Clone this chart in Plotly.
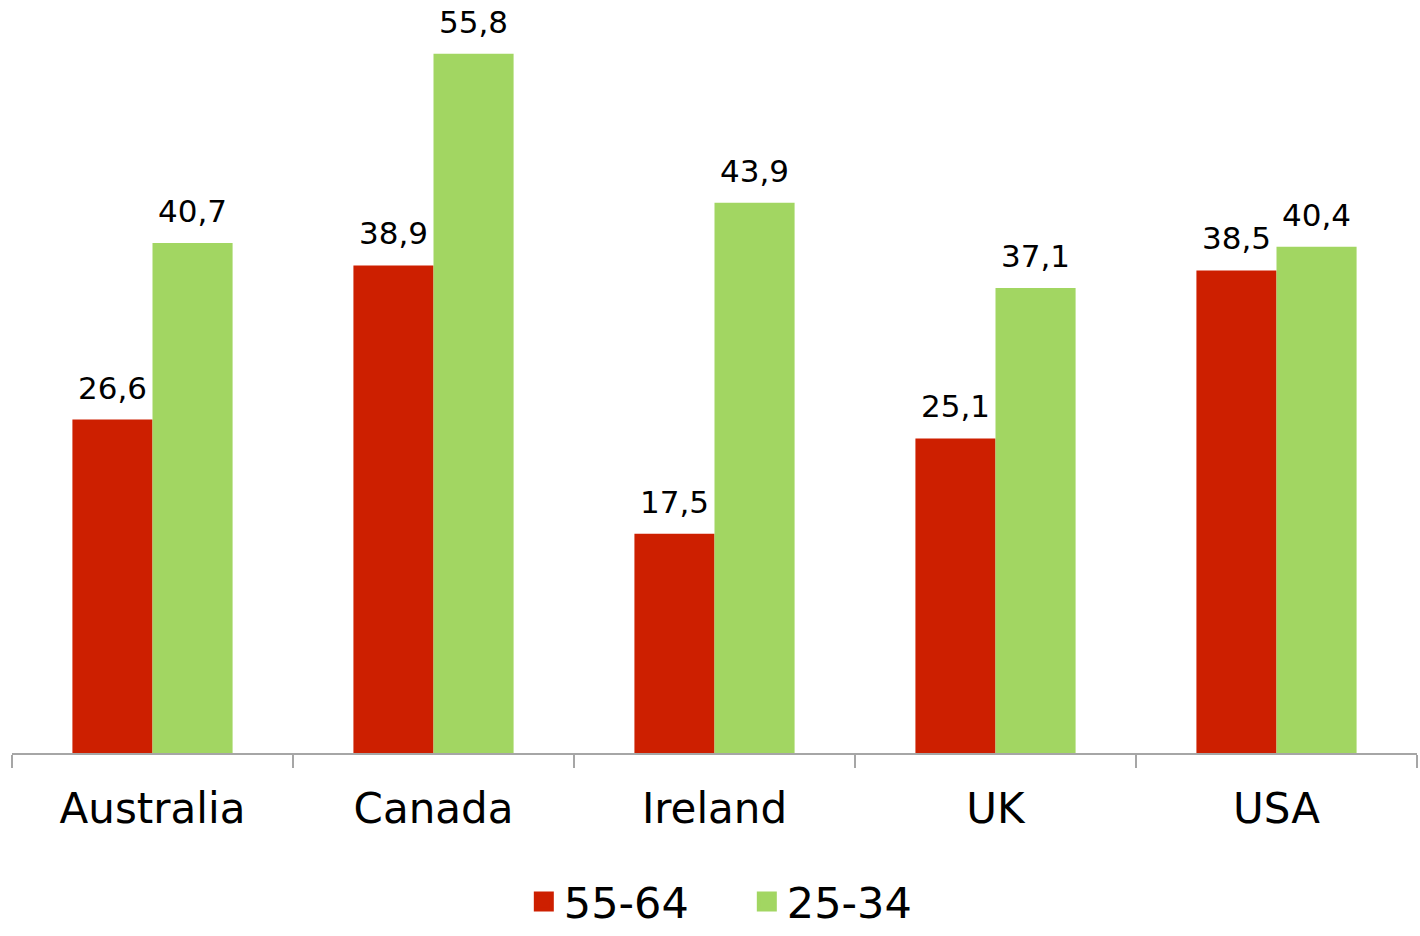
import plotly.graph_objects as go

countries = ["Australia", "Canada", "Ireland", "UK", "USA"]
age_55_64 = [26.6, 38.9, 17.5, 25.1, 38.5]
age_25_34 = [40.7, 55.8, 43.9, 37.1, 40.4]
series_names = ["55-64", "25-34"]
colors = ["#CD1F00", "#A2D662"]

FONT = "DejaVu Sans"
fig = go.Figure()
series = [age_55_64, age_25_34]
for name, vals, col in zip(series_names, series, colors):
    fig.add_trace(go.Bar(
        x=countries, y=vals, name=name, marker_color=col,
        marker_line_width=0, showlegend=False,
    ))
# legend entries with larger square swatches
for name, col in zip(series_names, colors):
    fig.add_trace(go.Scatter(
        x=[None], y=[None], mode="markers", name=name,
        marker=dict(symbol="square", size=16, color=col,
                    line=dict(color=col, width=4)),
    ))

# value labels above bars
offsets = [-40, 40]
for vals, dx in zip(series, offsets):
    for c, v in zip(countries, vals):
        fig.add_annotation(
            x=c, y=v, xref="x", yref="y", xshift=dx, yshift=12,
            text=f"{v:.1f}".replace(".", ","), showarrow=False,
            yanchor="bottom", xanchor="center",
            font=dict(size=31, color="black", family=FONT),
        )

fig.update_layout(
    width=1420, height=936,
    margin=dict(l=12, r=3, t=1, b=183, autoexpand=False),
    paper_bgcolor="white", plot_bgcolor="white",
    separators=",.",
    barmode="group", bargap=0.43, bargroupgap=0,
    font=dict(family=FONT, color="black"),
    showlegend=True,
    legend=dict(orientation="h", x=0.523, xanchor="center",
                yref="container", y=0.0, yanchor="bottom",
                font=dict(size=43), entrywidth=178, entrywidthmode="pixels",
                itemsizing="trace"),
    xaxis=dict(showline=True, linecolor="#A6A6A6", linewidth=2,
               ticks="outside", tickson="boundaries", ticklen=13,
               tickcolor="#A6A6A6", tickwidth=2, ticklabelstandoff=18,
               tickfont=dict(size=42), showgrid=False),
    yaxis=dict(visible=False, range=[0, 60], showgrid=False, zeroline=False),
)

fig.write_html("out.html")
